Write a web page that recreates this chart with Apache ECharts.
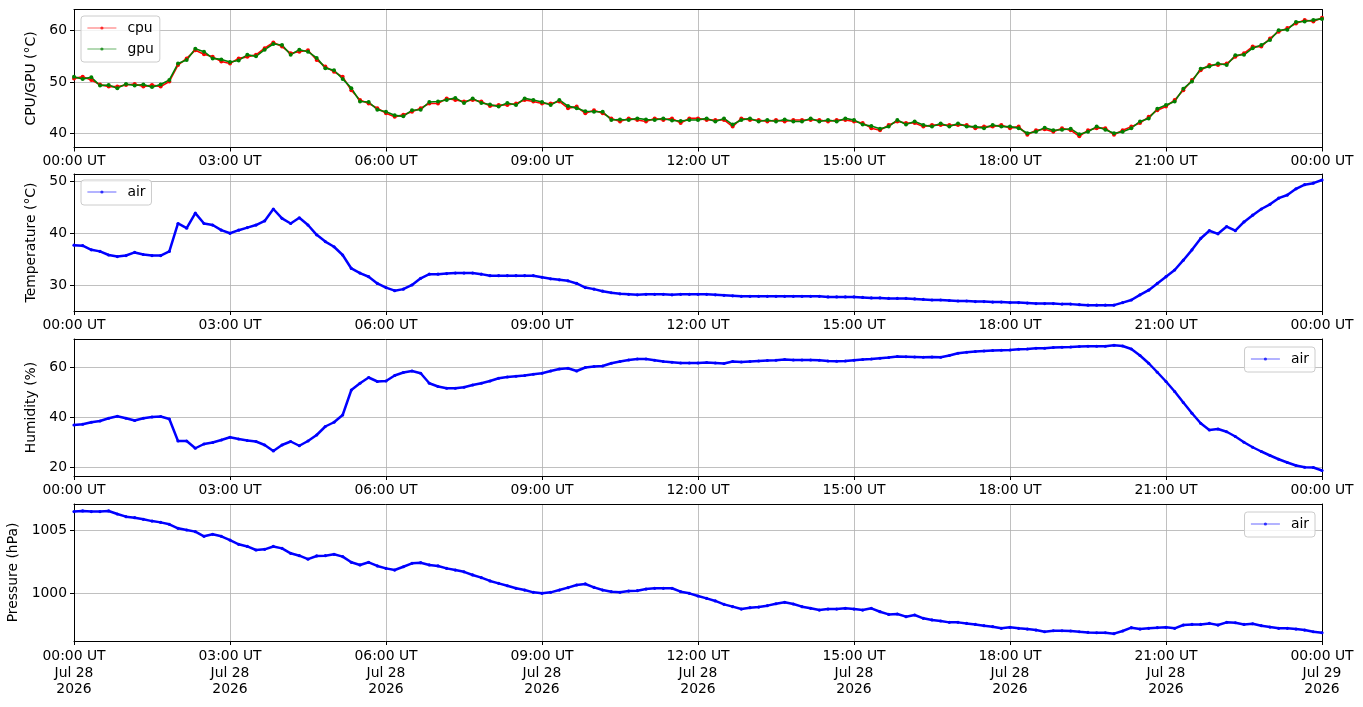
<!DOCTYPE html>
<html>
<head>
<meta charset="utf-8">
<title>cpu / air</title>
<script src="https://cdn.jsdelivr.net/npm/echarts@6/dist/echarts.min.js"></script>
<style>
html, body { margin: 0; padding: 0; background: #fff; }
#main { width: 1363px; height: 707px; }
</style>
</head>
<body>
<div id="main"></div>
<script>
// one reading every 10 minutes, 00:00 UT -> 24:00 UT (145 points)
var stepMin = 10;

var cpuTemp = [
    50.7, 51.0, 50.4, 49.5, 49.1, 49.1,   // 00h
    49.4, 49.6, 49.1, 49.4, 49.1, 50.1,   // 01h
    53.3, 54.6, 56.2, 55.4, 54.9, 54.0,   // 02h
    53.6, 54.6, 54.9, 55.3, 56.6, 57.7,   // 03h
    56.9, 55.6, 55.9, 56.2, 54.3, 53.0,   // 04h
    52.0, 51.0, 48.4, 46.5, 45.8, 44.9,   // 05h
    43.9, 43.2, 43.6, 44.2, 44.9, 45.8,   // 06h
    45.8, 46.8, 46.5, 46.2, 46.5, 46.2,   // 07h
    45.3, 45.5, 45.5, 45.8, 46.5, 46.2,   // 08h
    45.8, 45.8, 46.2, 44.9, 45.2, 43.9,   // 09h
    44.5, 43.9, 42.9, 42.3, 42.9, 42.6,   // 10h
    42.3, 42.9, 42.6, 42.9, 42.0, 42.9,   // 11h
    42.9, 42.6, 42.6, 42.6, 41.3, 42.9,   // 12h
    42.6, 42.6, 42.3, 42.6, 42.3, 42.6,   // 13h
    42.6, 42.6, 42.6, 42.3, 42.6, 42.6,   // 14h
    42.3, 42.0, 41.0, 40.6, 41.6, 42.3,   // 15h
    42.0, 42.0, 41.3, 41.6, 41.6, 41.6,   // 16h
    41.6, 41.6, 41.0, 41.3, 41.3, 41.6,   // 17h
    41.0, 41.3, 39.7, 40.6, 40.8, 40.3,   // 18h
    41.0, 40.6, 39.4, 40.6, 41.0, 41.0,   // 19h
    39.7, 40.6, 41.3, 42.0, 43.2, 44.5,   // 20h
    45.2, 46.5, 48.4, 50.4, 52.3, 53.3,   // 21h
    53.3, 53.6, 54.9, 55.6, 56.9, 56.9,   // 22h
    58.5, 59.8, 60.5, 61.4, 62.1, 61.8,   // 23h
    62.5
];

var gpuTemp = [
    51.0, 50.6, 50.9, 49.3, 49.4, 48.8,
    49.6, 49.3, 49.5, 49.0, 49.5, 50.4,
    53.6, 54.3, 56.5, 55.9, 54.6, 54.4,
    53.9, 54.2, 55.3, 55.0, 56.3, 57.4,
    57.2, 55.3, 56.3, 55.9, 54.7, 52.7,
    52.3, 50.6, 48.8, 46.2, 46.1, 44.6,
    44.2, 43.5, 43.3, 44.5, 44.6, 46.1,
    46.2, 46.5, 46.9, 45.9, 46.8, 45.9,
    45.6, 45.2, 45.9, 45.5, 46.8, 46.5,
    46.1, 45.5, 46.5, 45.3, 44.9, 44.3,
    44.2, 44.2, 42.6, 42.7, 42.6, 42.9,
    42.7, 42.6, 42.9, 42.5, 42.4, 42.6,
    42.6, 42.9, 42.3, 42.9, 41.7, 42.6,
    42.9, 42.3, 42.6, 42.3, 42.7, 42.3,
    42.3, 42.9, 42.3, 42.6, 42.3, 42.9,
    42.6, 41.7, 41.4, 40.9, 41.3, 42.6,
    41.7, 42.3, 41.6, 41.3, 41.9, 41.3,
    41.9, 41.3, 41.3, 41.0, 41.6, 41.3,
    41.3, 41.0, 40.0, 40.3, 41.1, 40.6,
    40.7, 40.9, 39.8, 40.3, 41.3, 40.7,
    40.0, 40.3, 41.0, 42.3, 42.9, 44.8,
    45.5, 46.2, 48.7, 50.1, 52.6, 53.0,
    53.6, 53.3, 55.2, 55.3, 56.6, 57.2,
    58.2, 60.1, 60.2, 61.7, 61.8, 62.1,
    62.3
];

var airTemp = [
    37.7, 37.6, 36.8, 36.5, 35.8, 35.5,
    35.7, 36.3, 35.9, 35.7, 35.7, 36.5,
    41.9, 41.0, 43.9, 41.9, 41.6, 40.6,
    40.0, 40.6, 41.1, 41.6, 42.4, 44.7,
    42.9, 41.9, 43.0, 41.6, 39.7, 38.4,
    37.4, 35.8, 33.2, 32.3, 31.6, 30.3,
    29.5, 28.9, 29.2, 30.0, 31.3, 32.1,
    32.1, 32.2, 32.3, 32.3, 32.3, 32.1,
    31.8, 31.8, 31.8, 31.8, 31.8, 31.8,
    31.5, 31.2, 31.0, 30.8, 30.3, 29.5,
    29.2, 28.8, 28.5, 28.3, 28.2, 28.1,
    28.2, 28.2, 28.2, 28.1, 28.2, 28.2,
    28.2, 28.2, 28.1, 28.0, 27.9, 27.8,
    27.8, 27.8, 27.8, 27.8, 27.8, 27.8,
    27.8, 27.8, 27.8, 27.7, 27.7, 27.7,
    27.7, 27.6, 27.5, 27.5, 27.4, 27.4,
    27.4, 27.3, 27.2, 27.1, 27.1, 27.0,
    26.9, 26.9, 26.8, 26.8, 26.7, 26.7,
    26.6, 26.6, 26.5, 26.4, 26.4, 26.4,
    26.3, 26.3, 26.2, 26.1, 26.1, 26.1,
    26.1, 26.6, 27.1, 28.1, 29.0, 30.3,
    31.6, 32.9, 34.8, 36.8, 39.0, 40.5,
    39.9, 41.3, 40.5, 42.2, 43.5, 44.7,
    45.6, 46.8, 47.4, 48.6, 49.4, 49.7,
    50.3
];

var airHumidity = [
    36.9, 37.2, 38.0, 38.5, 39.6, 40.4,
    39.6, 38.7, 39.6, 40.1, 40.3, 39.3,
    30.5, 30.5, 27.6, 29.3, 29.9, 30.9,
    32.0, 31.3, 30.7, 30.3, 28.9, 26.5,
    28.9, 30.3, 28.6, 30.5, 32.9, 36.3,
    38.0, 40.9, 50.9, 53.6, 55.9, 54.3,
    54.5, 56.7, 57.9, 58.5, 57.6, 53.6,
    52.3, 51.6, 51.6, 52.0, 52.9, 53.6,
    54.5, 55.6, 56.1, 56.4, 56.7, 57.2,
    57.6, 58.5, 59.3, 59.6, 58.5, 59.9,
    60.3, 60.5, 61.6, 62.3, 62.9, 63.3,
    63.3, 62.8, 62.3, 62.0, 61.7, 61.7,
    61.7, 61.9, 61.7, 61.5, 62.3, 62.1,
    62.3, 62.5, 62.7, 62.8, 63.1, 62.9,
    62.9, 62.9, 62.8, 62.5, 62.4, 62.5,
    62.8, 63.1, 63.3, 63.6, 63.9, 64.3,
    64.2, 64.1, 64.0, 64.1, 64.0, 64.7,
    65.6, 66.0, 66.3, 66.5, 66.7, 66.8,
    66.9, 67.2, 67.3, 67.6, 67.6, 67.9,
    68.0, 68.1, 68.3, 68.4, 68.4, 68.4,
    68.8, 68.5, 67.3, 64.7, 61.6, 58.0,
    54.3, 50.3, 45.9, 41.6, 37.6, 34.9,
    35.3, 34.2, 32.3, 30.0, 28.0, 26.3,
    24.7, 23.2, 21.9, 20.7, 20.0, 19.9,
    18.7
];

var airPressure = [
    1006.45, 1006.50, 1006.45, 1006.45, 1006.50, 1006.26,
    1006.05, 1005.97, 1005.84, 1005.70, 1005.60, 1005.45,
    1005.13, 1005.00, 1004.87, 1004.50, 1004.66, 1004.50,
    1004.20, 1003.87, 1003.70, 1003.42, 1003.47, 1003.70,
    1003.55, 1003.16, 1002.97, 1002.70, 1002.95, 1002.97,
    1003.08, 1002.90, 1002.45, 1002.24, 1002.45, 1002.16,
    1001.97, 1001.84, 1002.10, 1002.37, 1002.42, 1002.24,
    1002.16, 1001.97, 1001.84, 1001.70, 1001.45, 1001.24,
    1000.98, 1000.79, 1000.60, 1000.40, 1000.26, 1000.08,
    1000.00, 1000.08, 1000.26, 1000.45, 1000.66, 1000.74,
    1000.47, 1000.26, 1000.13, 1000.08, 1000.18, 1000.21,
    1000.34, 1000.40, 1000.40, 1000.40, 1000.13, 1000.00,
    999.79, 999.60, 999.40, 999.13, 998.95, 998.76,
    998.87, 998.92, 999.03, 999.18, 999.29, 999.16,
    998.95, 998.82, 998.68, 998.76, 998.76, 998.82,
    998.76, 998.68, 998.82, 998.55, 998.34, 998.37,
    998.16, 998.29, 998.03, 997.90, 997.82, 997.71,
    997.71, 997.63, 997.55, 997.45, 997.37, 997.24,
    997.32, 997.24, 997.18, 997.10, 996.97, 997.05,
    997.05, 997.03, 996.97, 996.92, 996.89, 996.89,
    996.82, 997.03, 997.29, 997.18, 997.24, 997.29,
    997.32, 997.24, 997.50, 997.55, 997.55, 997.63,
    997.50, 997.71, 997.68, 997.55, 997.60, 997.45,
    997.34, 997.24, 997.24, 997.18, 997.10, 996.97,
    996.89
];

// tick labels
var timeTicks = ['00:00 UT', '03:00 UT', '06:00 UT', '09:00 UT', '12:00 UT',
                 '15:00 UT', '18:00 UT', '21:00 UT', '00:00 UT'];
var dateTicks = ['Jul 28', 'Jul 28', 'Jul 28', 'Jul 28', 'Jul 28',
                 'Jul 28', 'Jul 28', 'Jul 28', 'Jul 29'];
var yearTick = '2026';
var cpuTicks = [40, 50, 60];
var tempTicks = [30, 40, 50];
var humTicks = [20, 40, 60];
var presTicks = [1000, 1005];

var FONT = 'DejaVu Sans';
var FS = 13.9;
var GRID_COLOR = '#b0b0b0';

function pairs(arr) {
    return arr.map(function(v, i) { return [i * stepMin, v]; });
}

// panel boxes (px)
var panels = [
    { top: 9.5, height: 138, min: 37.23, max: 64.13, ticks: cpuTicks, step: 10, name: 'CPU/GPU (°C)', gap: 31 },
    { top: 174, height: 137, min: 24.97, max: 51.47, ticks: tempTicks, step: 10, name: 'Temperature (°C)', gap: 31 },
    { top: 339, height: 137, min: 16.5, max: 71.3, ticks: humTicks, step: 20, name: 'Humidity (%)', gap: 31 },
    { top: 504, height: 137, min: 996.24, max: 1007.05, ticks: presTicks, step: 5, name: 'Pressure (hPa)', gap: 48 }
];

var grids = [], xAxes = [], yAxes = [];
panels.forEach(function(p, i) {
    var last = (i === panels.length - 1);
    grids.push({ left: 74, right: 41, top: p.top, height: p.height, containLabel: false, outerBoundsMode: 'none' });

    // time axis
    xAxes.push({
        type: 'value', gridIndex: i, min: 0, max: 1440, interval: 180,
        axisLine: { show: true, onZero: false, lineStyle: { color: '#000', width: 1 } },
        axisTick: { show: true, length: 4, lineStyle: { color: '#000', width: 1 } },
        axisLabel: {
            color: '#000', fontFamily: FONT, fontSize: FS, margin: 7,
            lineHeight: last ? 16.7 : null,
            formatter: function(v) {
                var k = Math.round(v / 180);
                if (last) return timeTicks[k] + '\n' + dateTicks[k] + '\n' + yearTick;
                return timeTicks[k];
            }
        },
        splitLine: { show: true, lineStyle: { color: GRID_COLOR, width: 0.8 } }
    });
    // top edge of the box
    xAxes.push({
        type: 'value', gridIndex: i, position: 'top', min: 0, max: 1,
        axisLine: { show: true, onZero: false, lineStyle: { color: '#000', width: 1 } },
        axisTick: { show: false }, axisLabel: { show: false }, splitLine: { show: false }
    });

    yAxes.push({
        type: 'value', gridIndex: i, min: p.min, max: p.max,
        splitNumber: 3, minInterval: p.step, maxInterval: p.step,
        name: p.name, nameLocation: 'middle', nameGap: p.gap,
        nameTextStyle: { color: '#000', fontFamily: FONT, fontSize: FS },
        axisLine: { show: true, onZero: false, lineStyle: { color: '#000', width: 1 } },
        axisTick: { show: true, length: 4, customValues: p.ticks, lineStyle: { color: '#000', width: 1 } },
        axisLabel: {
            color: '#000', fontFamily: FONT, fontSize: FS, margin: 7, customValues: p.ticks,
            formatter: function(v) {
                var q = v / p.step;
                return Math.abs(q - Math.round(q)) < 1e-6 ? String(Math.round(v)) : '';
            }
        },
        splitLine: { show: true, lineStyle: { color: GRID_COLOR, width: 0.8 } }
    });
    // right edge of the box
    yAxes.push({
        type: 'value', gridIndex: i, position: 'right', min: 0, max: 1,
        axisLine: { show: true, onZero: false, lineStyle: { color: '#000', width: 1 } },
        axisTick: { show: false }, axisLabel: { show: false }, splitLine: { show: false }
    });
});

function lineSeries(name, color, panel, values, width, size) {
    return {
        name: name, type: 'line', xAxisIndex: panel * 2, yAxisIndex: panel * 2,
        data: pairs(values),
        symbol: 'circle', symbolSize: size, showAllSymbol: true,
        itemStyle: { color: color, borderWidth: 0 },
        lineStyle: { color: color, width: width },
        emphasis: { disabled: true },
        animation: false
    };
}

function legendBox(names, pos) {
    var l = {
        orient: 'vertical', data: names, selectedMode: false,
        itemWidth: 29, itemHeight: 4, itemGap: 5,
        padding: [4, 6, 5, 6],
        backgroundColor: 'rgba(255,255,255,0.8)',
        borderColor: '#cccccc', borderWidth: 1, borderRadius: 3,
        textStyle: { color: '#000', fontFamily: FONT, fontSize: FS, lineHeight: 16, padding: [0, 0, 0, 6] },
        lineStyle: { width: 0.8, opacity: 0.75 },
        itemStyle: { opacity: 0.75 }
    };
    for (var k in pos) l[k] = pos[k];
    return l;
}

var myChart = echarts.init(document.getElementById('main'), null, { renderer: 'canvas' });
myChart.setOption({
    backgroundColor: '#fff',
    animation: false,
    grid: grids,
    xAxis: xAxes,
    yAxis: yAxes,
    legend: [
        legendBox(['cpu', 'gpu'], { left: 81, top: 16 }),
        legendBox(['air'], { left: 81, top: 180 }),
        legendBox(['air'], { right: 48, top: 347 }),
        legendBox(['air'], { right: 48, top: 512 })
    ],
    series: [
        lineSeries('cpu', '#ff0000', 0, cpuTemp, 1.6, 4),
        lineSeries('gpu', '#008000', 0, gpuTemp, 1.6, 4),
        lineSeries('air', '#0000ff', 1, airTemp, 2.5, 3.2),
        lineSeries('air', '#0000ff', 2, airHumidity, 2.5, 3.2),
        lineSeries('air', '#0000ff', 3, airPressure, 2.5, 3.2)
    ]
});
</script>
</body>
</html>
